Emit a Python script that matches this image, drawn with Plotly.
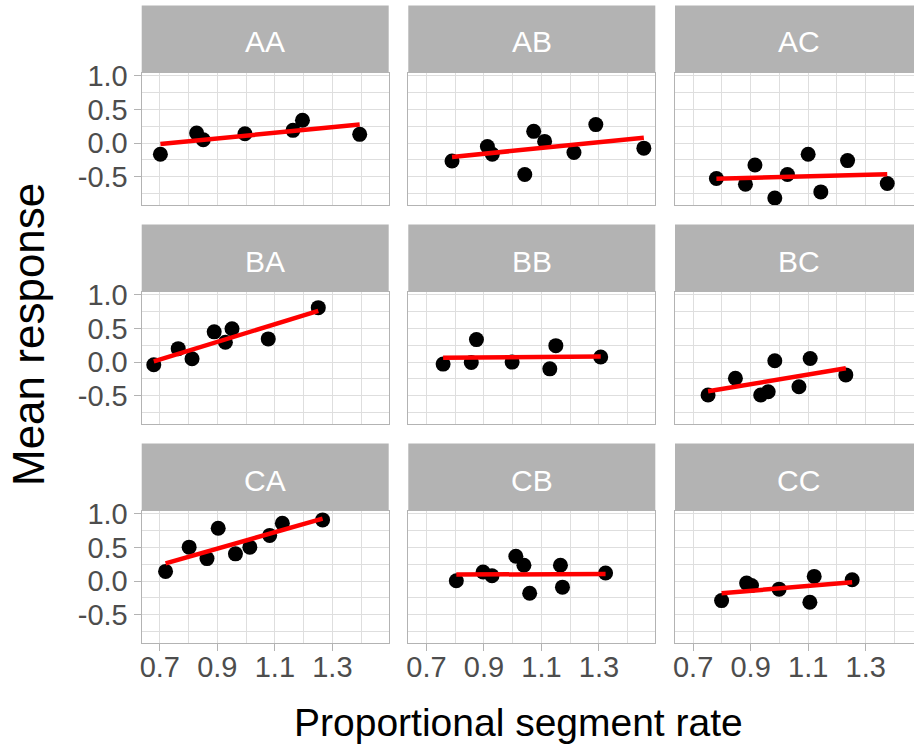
import numpy as np
import plotly.graph_objects as go

# ---- data -------------------------------------------------------------
facets = ["AA", "AB", "AC", "BA", "BB", "BC", "CA", "CB", "CC"]

aa_x = [0.702, 0.828, 0.851, 0.996, 1.163, 1.196, 1.395]
aa_y = [-0.165, 0.15, 0.05, 0.14, 0.19, 0.34, 0.13]

ab_x = [0.789, 0.912, 0.929, 1.042, 1.073, 1.111, 1.213, 1.289, 1.456]
ab_y = [-0.266, -0.05, -0.165, -0.466, 0.175, 0.025, -0.14, 0.275, -0.075]

ac_x = [0.781, 0.882, 0.915, 0.984, 1.028, 1.100, 1.144, 1.237, 1.375]
ac_y = [-0.526, -0.611, -0.326, -0.816, -0.466, -0.165, -0.726, -0.26, -0.60]

ba_x = [0.679, 0.764, 0.812, 0.889, 0.928, 0.951, 1.077, 1.251]
ba_y = [-0.04, 0.20, 0.05, 0.45, 0.295, 0.495, 0.345, 0.81]

bb_x = [0.758, 0.856, 0.874, 0.998, 1.129, 1.150, 1.306]
bb_y = [-0.03, -0.005, 0.335, 0.0, -0.10, 0.245, 0.075]

bc_x = [0.752, 0.847, 0.935, 0.961, 0.984, 1.068, 1.107, 1.231]
bc_y = [-0.49, -0.24, -0.49, -0.44, 0.02, -0.366, 0.054, -0.19]

ca_x = [0.720, 0.802, 0.864, 0.903, 0.963, 1.013, 1.082, 1.126, 1.266]
ca_y = [0.144, 0.505, 0.335, 0.785, 0.405, 0.505, 0.68, 0.86, 0.91]

cb_x = [0.804, 0.897, 0.928, 1.011, 1.039, 1.059, 1.166, 1.173, 1.323]
cb_y = [0.005, 0.135, 0.08, 0.37, 0.235, -0.18, 0.235, -0.09, 0.12]

cc_x = [0.799, 0.886, 0.903, 0.999, 1.106, 1.121, 1.253]
cc_y = [-0.29, -0.03, -0.065, -0.12, -0.315, 0.07, 0.02]

x_tickvals = [0.7, 0.9, 1.1, 1.3]
x_ticktext = ["0.7", "0.9", "1.1", "1.3"]
x_minorvals = [0.6, 0.8, 1.0, 1.2, 1.4]
y_tickvals = [-0.5, 0.0, 0.5, 1.0]
y_ticktext = ["-0.5", "0.0", "0.5", "1.0"]
y_minorvals = [-0.75, -0.25, 0.25, 0.75]

panel_data = [
    (aa_x, aa_y), (ab_x, ab_y), (ac_x, ac_y),
    (ba_x, ba_y), (bb_x, bb_y), (bc_x, bc_y),
    (ca_x, ca_y), (cb_x, cb_y), (cc_x, cc_y),
]

# ---- geometry (pixels) ------------------------------------------------
W, H = 914, 751
col_left = [141.7, 408.3, 675.0]
panel_w = 247.0
row_top = [72.5, 291.5, 510.5]
panel_h = 132.8
strip_h = 67.0
px_per_unit = 287.6
x_start = 0.637
y_range = [-0.925, 1.05]

GREY70 = "#b3b3b3"
GREY87 = "#dedede"
FONT = "Liberation Sans, Arial, sans-serif"

fig = go.Figure()
layout = dict(
    template="none",
    width=W, height=H,
    margin=dict(l=0, r=0, t=0, b=0, pad=0, autoexpand=False),
    paper_bgcolor="white", plot_bgcolor="white",
    showlegend=False,
    font=dict(family=FONT),
)
shapes, annotations = [], []

for i, (name, (xs, ys)) in enumerate(zip(facets, panel_data)):
    r, c = divmod(i, 3)
    k = "" if i == 0 else str(i + 1)
    left = col_left[c]
    full_right = left + panel_w
    right = min(full_right, W)
    top = row_top[r]
    bottom = top + panel_h

    xs = np.asarray(xs)
    ys = np.asarray(ys)

    fig.add_trace(go.Scatter(
        x=xs, y=ys, mode="markers",
        marker=dict(color="black", size=15, line=dict(width=0)),
        xaxis="x" + k, yaxis="y" + k, hoverinfo="skip",
    ))
    # least-squares fit over the observed x span
    slope, icpt = np.polyfit(xs, ys, 1)
    fx = np.array([xs.min(), xs.max()])
    fig.add_trace(go.Scatter(
        x=fx, y=icpt + slope * fx, mode="lines",
        line=dict(color="#ff0000", width=4.5),
        xaxis="x" + k, yaxis="y" + k, hoverinfo="skip",
    ))

    bottom_row = r == 2
    left_col = c == 0
    layout["xaxis" + k] = dict(
        domain=[left / W, right / W], anchor="y" + k,
        range=[x_start, x_start + (right - left) / px_per_unit],
        automargin=False,
        tickmode="array", tickvals=x_tickvals, ticktext=x_ticktext,
        showticklabels=bottom_row,
        ticks="outside" if bottom_row else "", ticklen=7, tickwidth=1.3,
        tickcolor=GREY70, ticklabelstandoff=-9,
        tickfont=dict(size=29, color="#4d4d4d", family=FONT),
        showgrid=True, gridcolor=GREY87, gridwidth=1.4,
        minor=dict(tickmode="array", tickvals=x_minorvals, showgrid=True,
                   gridcolor=GREY87, gridwidth=1.1, ticks=""),
        zeroline=False, showline=True, linecolor=GREY70, linewidth=1.3,
        mirror=True,
    )
    layout["yaxis" + k] = dict(
        domain=[1 - bottom / H, 1 - top / H], anchor="x" + k,
        range=y_range,
        automargin=False,
        tickmode="array", tickvals=y_tickvals, ticktext=y_ticktext,
        showticklabels=left_col,
        ticks="outside" if left_col else "", ticklen=7, tickwidth=1.3,
        tickcolor=GREY70,
        tickfont=dict(size=29, color="#4d4d4d", family=FONT),
        showgrid=True, gridcolor=GREY87, gridwidth=1.4,
        minor=dict(tickmode="array", tickvals=y_minorvals, showgrid=True,
                   gridcolor=GREY87, gridwidth=1.1, ticks=""),
        zeroline=False, showline=True, linecolor=GREY70, linewidth=1.3,
        mirror=(c != 2),
    )

    # facet strip
    shapes.append(dict(
        type="rect", xref="paper", yref="paper",
        x0=left / W, x1=right / W,
        y0=1 - top / H, y1=1 - (top - strip_h) / H,
        fillcolor=GREY70, line=dict(width=0), layer="below",
    ))
    annotations.append(dict(
        text=name, xref="paper", yref="paper",
        x=(left + full_right) / 2 / W, y=1 - (top - strip_h / 2 + 3) / H,
        xanchor="center", yanchor="middle", showarrow=False,
        font=dict(size=30, color="white", family=FONT),
    ))

annotations.append(dict(
    text="Proportional segment rate", xref="paper", yref="paper",
    x=518 / W, y=1 - 722 / H, xanchor="center", yanchor="middle",
    showarrow=False, font=dict(size=39, color="black", family=FONT),
))
annotations.append(dict(
    text="Mean response", xref="paper", yref="paper",
    x=28 / W, y=1 - 335 / H, xanchor="center", yanchor="middle",
    textangle=-90, showarrow=False,
    font=dict(size=44, color="black", family=FONT),
))

layout["shapes"] = shapes
layout["annotations"] = annotations
fig.update_layout(**layout)
fig.write_html("out.html")
